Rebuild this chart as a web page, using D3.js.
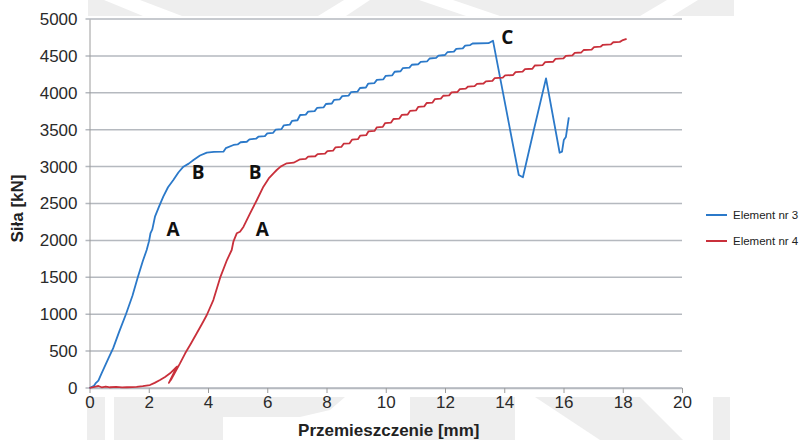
<!DOCTYPE html>
<html>
<head>
<meta charset="utf-8">
<script src="https://cdn.jsdelivr.net/npm/d3@7/dist/d3.min.js"></script>
<style>
  html, body { margin: 0; padding: 0; background: #fff; }
  svg { display: block; font-family: "Liberation Sans", Arial, sans-serif; }
</style>
</head>
<body>
<div id="chart"></div>
<script>
/* displacement [mm], force [kN] */
const element3 = [
  [0, 0], [0.15, 30], [0.22, 70], [0.3, 100], [0.4, 190], [0.5, 280], [0.65, 410],
  [0.8, 540], [1.0, 760], [1.23, 1000], [1.45, 1250], [1.63, 1500], [1.8, 1720],
  [1.93, 1870], [2.01, 1990], [2.06, 2100], [2.12, 2150], [2.21, 2321], [2.35, 2460],
  [2.49, 2592], [2.65, 2720], [2.83, 2818], [3.0, 2920], [3.17, 2999], [3.35, 3040],
  [3.51, 3089], [3.73, 3150], [3.96, 3190], [4.2, 3200], [4.52, 3202], [4.6, 3250],
  [4.86, 3293], [5.0, 3300], [5.1, 3330], [5.31, 3337], [5.4, 3370], [5.62, 3378],
  [5.7, 3405], [5.92, 3412], [6.0, 3450], [6.2, 3458], [6.28, 3500], [6.48, 3508],
  [6.56, 3560], [6.76, 3568], [6.84, 3620], [7.02, 3628], [7.11, 3699],
  [7.3, 3705], [7.38, 3745], [7.6, 3752], [7.68, 3795], [7.9, 3802], [7.98, 3848],
  [8.18, 3855], [8.26, 3905], [8.45, 3912], [8.53, 3955], [8.75, 3962], [8.83, 4010],
  [9.05, 4017], [9.13, 4065], [9.33, 4072], [9.41, 4125], [9.62, 4132], [9.7, 4175],
  [9.92, 4182], [10.0, 4230], [10.22, 4237], [10.3, 4285], [10.5, 4292], [10.58, 4335],
  [10.8, 4342], [10.88, 4380], [11.1, 4387], [11.18, 4420], [11.4, 4427], [11.48, 4465],
  [11.7, 4472], [11.78, 4505], [12.0, 4512], [12.08, 4550], [12.3, 4557], [12.38, 4595],
  [12.6, 4602], [12.68, 4640], [12.85, 4647], [12.93, 4668], [13.47, 4672], [13.62, 4706],
  [14.49, 2886], [14.63, 2855], [15.0, 3500], [15.41, 4196],
  [15.87, 3188], [15.95, 3202], [16.01, 3360], [16.08, 3400], [16.18, 3668]
];

const element4 = [
  [0, 0], [0.2, 20], [0.3, 27], [0.41, 10], [0.55, 20], [0.69, 10], [0.9, 15],
  [1.1, 8], [1.26, 10], [1.45, 12], [1.59, 15], [1.8, 25], [2.04, 40], [2.2, 70],
  [2.38, 108], [2.55, 150], [2.72, 199], [2.95, 290], [2.68, 70], [2.8, 150],
  [3.0, 300], [2.75, 110], [3.05, 330], [3.23, 470], [3.42, 600], [3.62, 741],
  [3.8, 870], [3.96, 989], [4.18, 1192], [4.41, 1495], [4.64, 1734], [4.8, 1870],
  [4.86, 1988], [4.97, 2096], [5.08, 2118], [5.2, 2186], [5.42, 2367], [5.65, 2547],
  [5.87, 2728], [6.05, 2840], [6.21, 2909], [6.32, 2954], [6.45, 3000], [6.55, 3022],
  [6.66, 3045], [6.89, 3053], [7.11, 3099], [7.3, 3104], [7.38, 3135], [7.62, 3140],
  [7.7, 3170], [7.95, 3176], [8.03, 3210], [8.22, 3216], [8.3, 3260], [8.5, 3266],
  [8.58, 3310], [8.78, 3316], [8.86, 3365], [9.06, 3371], [9.14, 3420], [9.34, 3426],
  [9.42, 3478], [9.62, 3484], [9.7, 3532], [9.9, 3538], [9.98, 3590], [10.18, 3596],
  [10.26, 3645], [10.46, 3651], [10.54, 3700], [10.74, 3706], [10.82, 3755], [11.02, 3761],
  [11.1, 3810], [11.3, 3816], [11.38, 3862], [11.58, 3868], [11.66, 3915], [11.86, 3921],
  [11.94, 3960], [12.14, 3966], [12.22, 4005], [12.42, 4011], [12.5, 4050], [12.7, 4056],
  [12.78, 4085], [13.0, 4090], [13.08, 4120], [13.3, 4126], [13.38, 4155], [13.6, 4161],
  [13.68, 4200], [13.95, 4206], [14.03, 4235], [14.3, 4241], [14.38, 4280], [14.62, 4286],
  [14.7, 4320], [14.95, 4326], [15.03, 4370], [15.3, 4376], [15.38, 4415], [15.65, 4421],
  [15.73, 4460], [16.0, 4466], [16.08, 4500], [16.3, 4506], [16.38, 4540], [16.6, 4546],
  [16.68, 4580], [16.95, 4586], [17.03, 4620], [17.25, 4625], [17.33, 4650], [17.6, 4656],
  [17.68, 4685], [17.9, 4690], [17.98, 4710], [18.13, 4730]
];

const seriesNames = ["Element nr 3", "Element nr 4"];
const seriesColors = ["#2b79c9", "#c9303b"];

const xTicks = [0, 2, 4, 6, 8, 10, 12, 14, 16, 18, 20];
const yTicks = [0, 500, 1000, 1500, 2000, 2500, 3000, 3500, 4000, 4500, 5000];

/* point labels: [text, displacement, force] */
const pointLabels = [
  ["A", 2.82, 2154], ["B", 3.67, 2927],
  ["A", 5.83, 2154], ["B", 5.59, 2927],
  ["C", 14.1, 4756]
];

const W = 812, H = 440;
const margin = {top: 19, right: 130, bottom: 52, left: 89.5},
    width = 682 - margin.left,
    height = H - margin.top - margin.bottom;

const x = d3.scaleLinear().domain([0, 20]).range([0, width]);
const y = d3.scaleLinear().domain([0, 5000]).range([height, 0]);

const svg = d3.select("#chart").append("svg")
  .attr("width", W)
  .attr("height", H);

/* faint watermark of the source document, behind the chart */
const wm = svg.append("g").attr("fill", "#eeeeee");
[
  [[88, 0], [734, 0], [734, 16], [88, 16]],
  [[87, 397], [105, 397], [105, 440], [87, 440]],
  [[114, 397], [300, 397], [345, 397], [330, 410], [300, 417], [223, 417], [223, 440], [114, 440]],
  [[410, 397], [515, 397], [515, 440], [410, 440]],
  [[535, 397], [640, 397], [683, 440], [600, 440]],
  [[713, 397], [730, 397], [730, 440], [713, 440]]
].forEach(p => wm.append("polygon").attr("points", p.join(" ")));
/* white cuts in the top strip */
[
  [[104, 0], [140, 0], [182, 16], [143, 16]],
  [[344, 0], [370, 0], [346, 16], [318, 16]],
  [[419, 0], [453, 0], [500, 16], [466, 16]],
  [[667, 0], [698, 0], [672, 16], [640, 16]]
].forEach(p => svg.append("polygon").attr("points", p.join(" ")).attr("fill", "#fff"));

const g = svg.append("g")
  .attr("transform", "translate(" + margin.left + " " + margin.top + ")");

/* plot area background */
g.append("rect")
  .attr("x", 0).attr("y", 0)
  .attr("width", width).attr("height", height)
  .attr("fill", "#fff");

/* horizontal grid */
g.append("g")
  .selectAll("line")
  .data(yTicks)
  .join("line")
    .attr("x1", -4)
    .attr("x2", width)
    .attr("y1", d => y(d))
    .attr("y2", d => y(d))
    .attr("stroke", "#b5b9bf")
    .attr("stroke-width", 1.5);

/* y axis */
const yAxis = g.append("g")
  .call(d3.axisLeft(y).tickValues(yTicks).tickSize(0).tickPadding(12).tickFormat(d3.format("d")));
yAxis.select(".domain").attr("stroke", "#9c9c9c").attr("stroke-width", 1);
yAxis.selectAll("text")
  .attr("font-size", 17)
  .attr("fill", "#2a2a2a")
  .attr("font-family", "Liberation Sans, Arial, sans-serif");

/* x axis */
const xAxis = g.append("g")
  .attr("transform", "translate(0 " + height + ")")
  .call(d3.axisBottom(x).tickValues(xTicks).tickSize(5).tickSizeOuter(0).tickPadding(3));
xAxis.select(".domain").attr("stroke", "#b5b9bf").attr("stroke-width", 1.5);
xAxis.selectAll(".tick line").attr("stroke", "#9c9c9c");
xAxis.selectAll("text")
  .attr("font-size", 17)
  .attr("fill", "#2a2a2a")
  .attr("font-family", "Liberation Sans, Arial, sans-serif");

/* axis titles */
g.append("text")
  .attr("x", width / 2 + 3)
  .attr("y", height + 48)
  .attr("text-anchor", "middle")
  .attr("font-size", 17)
  .attr("font-weight", "bold")
  .attr("fill", "#222")
  .text("Przemieszczenie [mm]");

g.append("text")
  .attr("transform", "translate(" + (-67) + " " + (height / 2 + 5) + ") rotate(-90)")
  .attr("text-anchor", "middle")
  .attr("font-size", 17)
  .attr("font-weight", "bold")
  .attr("fill", "#222")
  .text("Siła [kN]");

/* curves */
const line = d3.line()
  .x(d => x(d[0]))
  .y(d => y(d[1]));

[element3, element4].forEach((data, i) => {
  g.append("path")
    .datum(data)
    .attr("fill", "none")
    .attr("stroke", seriesColors[i])
    .attr("stroke-width", 1.8)
    .attr("stroke-linejoin", "round")
    .attr("d", line);
});

/* A / B / C markers */
g.append("g")
  .selectAll("text")
  .data(pointLabels)
  .join("text")
    .attr("x", d => x(d[1]))
    .attr("y", d => y(d[2]))
    .attr("dy", "0.36em")
    .attr("text-anchor", "middle")
    .attr("font-size", 19)
    .attr("font-weight", "bold")
    .attr("fill", "#111")
    .attr("font-family", "Open Sans, Liberation Sans, sans-serif")
    .text(d => d[0]);

/* legend */
const legend = svg.append("g")
  .attr("transform", "translate(706 215)");

legend.selectAll("g")
  .data(seriesNames)
  .join("g")
    .attr("transform", (d, i) => "translate(0 " + i * 26 + ")")
    .each(function(d, i) {
      const el = d3.select(this);
      el.append("line")
        .attr("x1", 0).attr("x2", 21)
        .attr("stroke", seriesColors[i])
        .attr("stroke-width", 2);
      el.append("text")
        .attr("x", 27)
        .attr("dy", "0.35em")
        .attr("font-size", 11.5)
        .attr("fill", "#222")
        .text(d);
    });
</script>
</body>
</html>
